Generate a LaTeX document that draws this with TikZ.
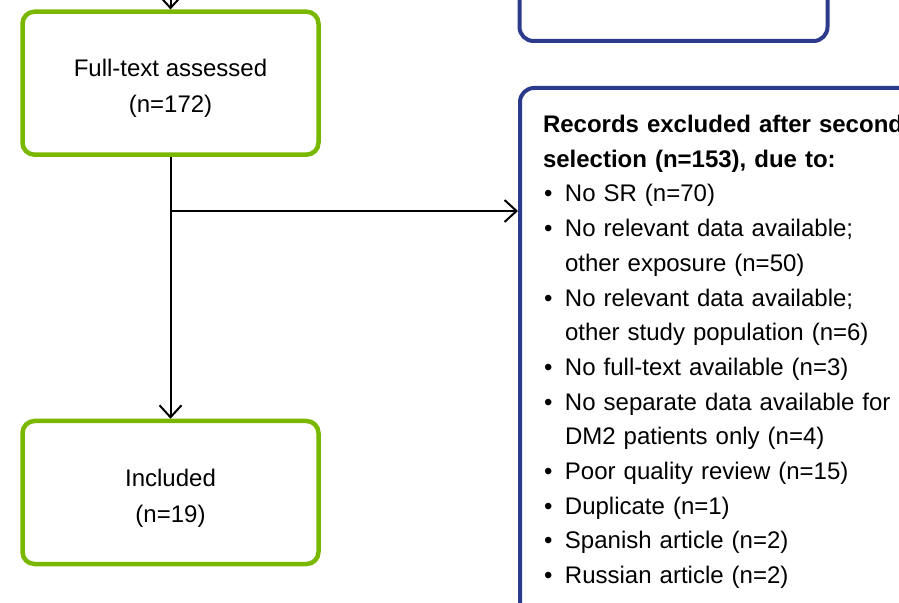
\documentclass[tikz,border=0pt]{standalone}
\usepackage{fontspec}
\setmainfont{Liberation Sans}
\usetikzlibrary{positioning, arrows.meta}
\definecolor{prisgreen}{RGB}{122,184,0}
\definecolor{prisblue}{RGB}{44,58,140}
\tikzset{
  phase/.style={
    draw=prisgreen, line width=2.25pt, rounded corners=6pt,
    minimum width=148pt, minimum height=71.5pt,
    font=\fontsize{12}{18}\selectfont, align=center
  },
  excl/.style={
    draw=prisblue, line width=2pt, rounded corners=7pt
  },
  flow/.style={-{Straight Barb[length=6pt, width=11pt]}, line width=1pt},
}
\newcommand{\lift}{\rule{0pt}{14pt}}
\newcommand{\bitem}[1]{\makebox[11pt][l]{\hspace{0.5pt}\textbullet}#1}
\newcommand{\bcont}[1]{\makebox[11pt]{}#1}

\begin{document}
\begin{tikzpicture}[x=0.5pt, y=-0.5pt]
  \useasboundingbox (0,0) rectangle (899,603);
  \clip (0,0) rectangle (899,603);
  % green stages
  \node[phase] (full) at (170.5,83.2) {\lift Full-text assessed\\(n=172)};
  \node[phase] (incl) at (170.5,492.5) {\lift Included\\(n=19)};
  % blue exclusion boxes
  \node[excl, minimum width=154pt, minimum height=100pt, anchor=south]
    (prev) at (673.5,43) {};
  \node[excl, anchor=north west, text width=232pt,
        inner xsep=11.5pt, inner ysep=13.6pt,
        align=left, font=\fontsize{12}{17.35}\selectfont] (out) at (518,86)
    {\textbf{Records excluded after second}\\
     \textbf{selection (n=153), due to:}\\
     \bitem{No SR (n=70)}\\
     \bitem{No relevant data available;}\\
     \bcont{other exposure (n=50)}\\
     \bitem{No relevant data available;}\\
     \bcont{other study population (n=6)}\\
     \bitem{No full-text available (n=3)}\\
     \bitem{No separate data available for}\\
     \bcont{DM2 patients only (n=4)}\\
     \bitem{Poor quality review (n=15)}\\
     \bitem{Duplicate (n=1)}\\
     \bitem{Spanish article (n=2)}\\
     \bitem{Russian article (n=2)}};
  \coordinate (top) at ([yshift=20pt]full.north);
  \coordinate (split) at (full.south |- 0,211);
  \draw[flow] (top) -- (full.north);
  \draw[flow] (full.south) -- (incl.north);
  \draw[flow] (split) -- (split -| out.west);
\end{tikzpicture}
\end{document}
